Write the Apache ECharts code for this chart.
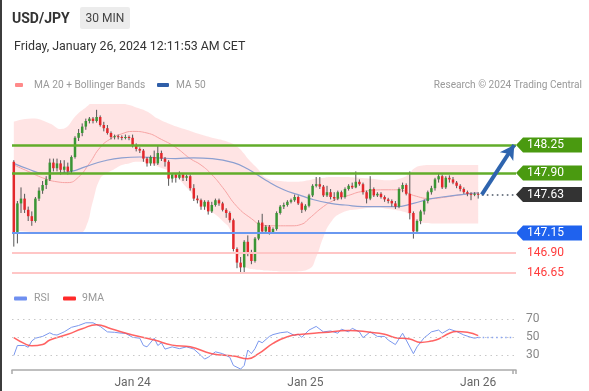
<!DOCTYPE html>
<html><head><meta charset="utf-8">
<script src="https://cdn.jsdelivr.net/npm/echarts@6/dist/echarts.min.js"></script>
<style>html,body{margin:0;padding:0;background:#fff;}#c{width:589px;height:391px;}</style>
</head><body><div id="c"></div>
<script>
// ---------- DATA ----------
const slotCount = 140; // 130 bars + empty space to the right
const startTime = Date.UTC(2024, 0, 23, 7, 30);
const tickIdx = [33, 81, 129];
const tickText = ['Jan 24', 'Jan 25', 'Jan 26'];

const opens = [148.04,147.16,147.52,147.58,147.44,147.36,147.30,147.58,147.68,147.75,
147.82,148.03,147.96,148.02,147.94,147.98,147.92,148.10,148.34,148.40,
148.48,148.55,148.58,148.55,148.60,148.50,148.46,148.40,148.35,148.36,
148.35,148.34,148.35,148.34,148.25,148.20,148.18,148.08,148.02,148.10,
148.02,148.15,148.08,148.04,147.83,147.88,147.84,147.88,147.84,147.86,
147.71,147.58,147.56,147.48,147.54,147.42,147.50,147.56,147.52,147.44,
147.40,147.31,146.95,146.78,146.72,147.04,146.90,146.80,147.08,147.28,
147.17,147.23,147.16,147.20,147.40,147.48,147.50,147.54,147.56,147.60,
147.52,147.44,147.49,147.62,147.74,147.76,147.73,147.62,147.66,147.60,
147.58,147.66,147.60,147.70,147.74,147.72,147.79,147.76,147.66,147.58,
147.70,147.62,147.64,147.60,147.57,147.55,147.52,147.48,147.70,147.75,
147.64,147.40,147.17,147.30,147.42,147.55,147.66,147.71,147.82,147.86,
147.72,147.84,147.82,147.78,147.74,147.70,147.66,147.64,147.63,147.64];
const closes = [147.16,147.52,147.58,147.44,147.36,147.30,147.58,147.68,147.75,147.82,
148.03,147.96,148.02,147.94,147.98,147.92,148.10,148.34,148.40,148.48,
148.55,148.58,148.55,148.60,148.50,148.46,148.40,148.35,148.36,148.35,
148.34,148.35,148.34,148.25,148.20,148.18,148.08,148.02,148.10,148.02,
148.15,148.08,148.04,147.83,147.88,147.84,147.88,147.84,147.86,147.71,
147.58,147.56,147.48,147.54,147.42,147.50,147.56,147.52,147.44,147.40,
147.31,146.95,146.78,146.72,147.04,146.90,146.80,147.08,147.28,147.17,
147.23,147.16,147.20,147.40,147.48,147.50,147.54,147.56,147.60,147.52,
147.44,147.49,147.62,147.74,147.76,147.73,147.62,147.66,147.60,147.58,
147.66,147.60,147.70,147.74,147.72,147.79,147.76,147.66,147.58,147.70,
147.62,147.64,147.60,147.57,147.55,147.52,147.48,147.70,147.75,147.64,
147.40,147.17,147.30,147.42,147.55,147.66,147.71,147.82,147.86,147.72,
147.84,147.82,147.78,147.74,147.70,147.66,147.64,147.63,147.64,147.63];
const highs = [148.06,147.55,147.72,147.64,147.48,147.42,147.60,147.72,147.80,147.86,
148.08,148.08,148.08,148.06,148.06,148.03,148.12,148.36,148.45,148.52,
148.58,148.60,148.60,148.69,148.62,148.54,148.50,148.42,148.38,148.38,
148.37,148.38,148.37,148.38,148.27,148.22,148.20,148.10,148.12,148.18,
148.24,148.18,148.10,148.06,147.90,147.90,147.92,147.90,147.88,147.88,
147.76,147.62,147.58,147.56,147.56,147.54,147.58,147.58,147.54,147.46,
147.42,147.33,146.97,146.85,147.06,147.12,146.94,147.10,147.31,147.39,
147.25,147.25,147.22,147.42,147.50,147.53,147.56,147.58,147.63,147.62,
147.54,147.51,147.64,147.76,147.85,147.85,147.75,147.74,147.70,147.66,
147.68,147.68,147.72,147.76,147.78,147.92,147.82,147.78,147.68,147.86,
147.72,147.66,147.66,147.62,147.59,147.57,147.55,147.72,147.78,147.77,
147.92,147.42,147.32,147.44,147.57,147.68,147.74,147.84,147.89,147.88,
147.86,147.87,147.85,147.80,147.76,147.72,147.68,147.66,147.66,147.66];
const lows = [146.98,147.02,147.40,147.40,147.30,147.24,147.28,147.55,147.64,147.70,
147.80,147.92,147.92,147.88,147.90,147.88,147.90,148.08,148.30,148.36,
148.44,148.52,148.52,148.53,148.48,148.42,148.38,148.32,148.32,148.32,
148.31,148.32,148.31,148.22,148.17,148.15,148.04,147.98,147.99,147.99,
148.00,148.05,147.98,147.74,147.78,147.78,147.82,147.80,147.80,147.68,
147.55,147.52,147.44,147.44,147.38,147.40,147.48,147.49,147.42,147.34,
147.28,146.92,146.71,146.66,146.66,146.86,146.76,146.78,147.06,147.15,
147.14,147.13,147.14,147.18,147.38,147.45,147.48,147.52,147.54,147.50,
147.40,147.42,147.47,147.60,147.72,147.70,147.60,147.60,147.57,147.55,
147.56,147.57,147.58,147.68,147.70,147.71,147.74,147.63,147.52,147.56,
147.60,147.60,147.58,147.54,147.52,147.48,147.45,147.46,147.66,147.62,
147.32,147.08,147.14,147.26,147.38,147.52,147.63,147.68,147.78,147.70,
147.70,147.78,147.76,147.71,147.67,147.64,147.61,147.56,147.61,147.58];

// Bollinger bands (read at bar indices)
const bbIdx =   [0,5,10,13,18,20,22,24,26,28,30,32,34,37,40,44,48,52,56,58,60,62,64,65,68,70,74,78,82,84,86,88,91,96,101,104,108,110,111,113,116,120,129];
const bbUpper = [148.54,148.58,148.52,148.45,148.65,148.72,148.78,148.79,148.79,148.78,148.77,148.75,148.72,148.67,148.58,148.50,148.44,148.38,148.33,148.31,148.28,148.23,148.14,148.08,147.94,147.84,147.80,147.79,147.81,147.83,147.84,147.85,147.85,147.84,147.82,147.81,147.84,147.90,147.95,147.99,148.00,148.00,148.00];
const bbLower = [147.18,147.16,147.15,147.15,147.15,147.22,147.55,147.83,147.90,147.95,148.00,148.02,148.04,148.03,147.98,147.90,147.72,147.52,147.38,147.30,147.20,146.92,146.74,146.71,146.69,146.68,146.67,146.67,146.70,146.85,147.10,147.28,147.40,147.45,147.47,147.45,147.42,147.38,147.32,147.28,147.27,147.27,147.27];
const ma20Idx = [0,4,8,12,15,18,21,24,27,30,33,37,41,45,49,52,55,58,62,66,69,72,77,80,82,86,89,93,97,104,107,111,116,120,126,129];
const ma20 =    [148.00,147.92,147.84,147.79,147.78,147.85,148.02,148.22,148.33,148.39,148.42,148.40,148.32,148.22,148.08,148.00,147.88,147.72,147.48,147.33,147.25,147.24,147.24,147.26,147.33,147.48,147.56,147.62,147.67,147.69,147.69,147.62,147.58,147.60,147.64,147.65];
const ma50Idx = [0,4,8,12,16,20,25,30,35,40,45,50,55,61,65,70,75,79,83,88,92,97,106,111,116,121,126,129];
const ma50 =    [148.02,147.95,147.90,147.90,147.92,147.98,148.05,148.09,148.10,148.09,148.08,148.09,148.08,148.03,147.95,147.81,147.69,147.63,147.57,147.52,147.50,147.48,147.48,147.52,147.58,147.61,147.64,147.65];

// Key levels
const resistLevels = [148.25, 147.90];
const lastPrice = 147.63;
const supportLevel = 147.15;
const lowerLevels = [146.90, 146.65];

// RSI (read at bar indices)
const rsiIdx = [0,1,3,4,5,6,8,10,11,12,14,16,18,20,22,24,26,28,30,31,33,35,36,37,39,40,41,42,44,46,48,50,52,53,54,56,58,60,61,63,64,65,66,67,68,69,71,72,74,76,78,79,80,82,84,86,88,90,91,93,94,96,97,99,101,103,104,106,108,109,111,112,114,115,116,118,119,121,123,125,127,128,129];
const rsi =    [30,41,41,39,46,49,51,55,53,52.5,56,61,63,66,66,62,56,55.5,54.5,54.5,50,49,41,39.5,49,41,44,37,39.5,37.5,39.5,37,30,26,28,34,32,28,19,15,19,36,32,37.5,46,44,51,53,55,56,52,53.5,50,58,62,56,57,54.5,59,56,60,56,49.6,56,51,51,47,42,54.5,47,32,39.5,49.6,52.6,56,58,54.5,59,56.4,52.6,50,49,50];
const rsiMaIdx = [0,3,5,8,10,15,19,23,27,33,39,44,49,55,61,65,68,72,76,80,86,93,99,103,106,110,113,116,118,121,123,126,129];
const rsiMa =    [49.6,43,40.6,42,47,53.4,59.4,63.9,59.4,52.6,47,41.4,39.5,32,29.4,26.4,32,43.3,50.7,53.5,55.2,57.5,55.6,53.4,49.6,48.1,44.4,45.9,48.1,54.5,56.4,55.6,51.9];
const rsiLevels = [70, 50, 30];
const rsiLast = 50;

// ---------- BUILD ----------
const categories = [];
for (let i = 0; i < slotCount; i++) {
  const d = new Date(startTime + i * 1800000);
  categories.push(d.toISOString().slice(0, 16));
}
const pairs = (idx, vals) => idx.map((k, i) => [k, vals[i]]);
const FONT = 'Roboto, "Liberation Sans", Arial, sans-serif';
const C = {
  up: '#3a9535', down: '#e3282c', wick: '#555',
  green: '#62ad2a', greenTag: '#4a9a10', blue: '#6a98f0', blueTag: '#1f62ee',
  pink: '#ffc6c6', red: '#ff3b3b', dark: '#333', band: 'rgba(255,170,170,0.32)',
  ma20: '#f6a3a3', ma50: '#8c9fd0', arrow: '#2e64ae', rsi: '#7b98ee', rsiMa: '#ff4848'
};

const chart = echarts.init(document.getElementById('c'));
const lastBar = opens.length - 1;

const tags = [
  { v: resistLevels[0], color: C.greenTag },
  { v: resistLevels[1], color: C.greenTag },
  { v: lastPrice, color: C.dark },
  { v: supportLevel, color: C.blueTag }
];

chart.setOption({
  animation: false,
  grid: [
    { left: 12, right: 73, top: 105, height: 176 },
    { left: 12, right: 73, top: 301, bottom: 21 }
  ],
  xAxis: [
    { type: 'category', gridIndex: 0, data: categories, show: false, boundaryGap: true },
    { type: 'category', gridIndex: 1, data: categories, boundaryGap: true,
      axisLine: { lineStyle: { color: '#aaa', width: 1.5 } },
      axisTick: { show: true, length: 4, lineStyle: { color: '#aaa', width: 1.5 },
        interval: (i) => i === 0 || i === slotCount - 1 },
      axisLabel: { color: '#666', fontSize: 12, fontFamily: FONT, margin: 7,
        interval: (i) => tickIdx.indexOf(i) >= 0,
        formatter: (v, i) => { const p = tickIdx.indexOf(i); return p >= 0 ? tickText[p] : ''; } },
      splitLine: { show: false } }
  ],
  yAxis: [
    { type: 'value', gridIndex: 0, min: 146.55, max: 148.75, show: false, splitLine: { show: false } },
    { type: 'value', gridIndex: 1, min: 14, max: 90, show: false, splitLine: { show: false } }
  ],
  graphic: [
    { type: 'rect', left: 0, top: 0, shape: { width: 2, height: 391 }, style: { fill: '#3c3c3c' } },
    { type: 'text', x: 12, y: 19, style: { text: 'USD/JPY', font: 'bold 14px ' + FONT, fill: '#333', textVerticalAlign: 'middle' } },
    { type: 'rect', x: 80, y: 7, shape: { width: 50, height: 22, r: 2 }, style: { fill: '#ececec' } },
    { type: 'text', x: 105, y: 18.5, style: { text: '30 MIN', font: '12px ' + FONT, fill: '#444', textAlign: 'center', textVerticalAlign: 'middle' } },
    { type: 'text', x: 14, y: 47, style: { text: 'Friday, January 26, 2024 12:11:53 AM CET', font: '12.4px ' + FONT, fill: '#333', textVerticalAlign: 'middle' } },
    { type: 'rect', x: 15, y: 83, shape: { width: 8, height: 4, r: 1 }, style: { fill: '#ff8a8a' } },
    { type: 'text', x: 34, y: 85, style: { text: 'MA 20 + Bollinger Bands', font: '10.2px ' + FONT, fill: '#999', textVerticalAlign: 'middle' } },
    { type: 'rect', x: 157, y: 83, shape: { width: 12, height: 4, r: 1 }, style: { fill: '#2f5ea8' } },
    { type: 'text', x: 176, y: 85, style: { text: 'MA 50', font: '10.2px ' + FONT, fill: '#999', textVerticalAlign: 'middle' } },
    { type: 'text', x: 582, y: 85, style: { text: 'Research \u00a9 2024 Trading Central', font: '10.1px ' + FONT, fill: '#999', textAlign: 'right', textVerticalAlign: 'middle' } },
    { type: 'rect', x: 14, y: 296.5, shape: { width: 13, height: 4, r: 1 }, style: { fill: '#6f8ff0' } },
    { type: 'text', x: 34, y: 298.5, style: { text: 'RSI', font: '10.5px ' + FONT, fill: '#999', textVerticalAlign: 'middle' } },
    { type: 'rect', x: 63, y: 296.5, shape: { width: 13, height: 4, r: 1 }, style: { fill: '#ff2a2a' } },
    { type: 'text', x: 82, y: 298.5, style: { text: '9MA', font: '10.5px ' + FONT, fill: '#999', textVerticalAlign: 'middle' } }
  ],
  series: [
    { name: 'bbLow', type: 'line', xAxisIndex: 0, yAxisIndex: 0, stack: 'bb', smooth: true, symbol: 'none',
      lineStyle: { opacity: 0 }, data: pairs(bbIdx, bbLower), z: 1, silent: true },
    { name: 'bbBand', type: 'line', xAxisIndex: 0, yAxisIndex: 0, stack: 'bb', smooth: true, symbol: 'none',
      lineStyle: { opacity: 0 }, areaStyle: { color: C.band, opacity: 1 },
      data: bbIdx.map((k, i) => [k, +(bbUpper[i] - bbLower[i]).toFixed(3)]), z: 1, silent: true },
    { name: 'MA20', type: 'line', xAxisIndex: 0, yAxisIndex: 0, smooth: true, symbol: 'none',
      lineStyle: { color: C.ma20, width: 1 }, data: pairs(ma20Idx, ma20), z: 2 },
    { name: 'MA50', type: 'line', xAxisIndex: 0, yAxisIndex: 0, smooth: true, symbol: 'none',
      lineStyle: { color: C.ma50, width: 1.2 }, data: pairs(ma50Idx, ma50), z: 2 },
    { name: 'candles', type: 'custom', xAxisIndex: 0, yAxisIndex: 0, z: 3,
      data: opens.map((o, i) => [i, o, closes[i], lows[i], highs[i]]),
      encode: { x: 0, y: [1, 2, 3, 4] },
      renderItem: function (params, api) {
        const x = api.value(0), o = api.value(1), c = api.value(2), l = api.value(3), h = api.value(4);
        const pO = api.coord([x, o]), pC = api.coord([x, c]), pL = api.coord([x, l]), pH = api.coord([x, h]);
        const w = 2.5, top = Math.min(pO[1], pC[1]), bot = Math.max(pO[1], pC[1]);
        return { type: 'group', children: [
          { type: 'line', shape: { x1: pH[0], y1: pH[1], x2: pL[0], y2: pL[1] }, style: { stroke: C.wick, lineWidth: 1 } },
          { type: 'rect', shape: { x: pO[0] - w / 2, y: top, width: w, height: Math.max(bot - top, 1) }, style: { fill: c >= o ? C.up : C.down } }
        ] };
      } },
    { name: 'levels', type: 'line', xAxisIndex: 0, yAxisIndex: 0, data: [], z: 4,
      markLine: { silent: true, symbol: ['none', 'none'], label: { show: false },
        data: [
          { yAxis: resistLevels[0], lineStyle: { color: C.green, width: 2.5, type: 'solid' } },
          { yAxis: resistLevels[1], lineStyle: { color: C.green, width: 2.5, type: 'solid' } },
          { yAxis: supportLevel, lineStyle: { color: C.blue, width: 2, type: 'solid' } },
          { yAxis: lowerLevels[0], lineStyle: { color: C.pink, width: 2, type: 'solid' } },
          { yAxis: lowerLevels[1], lineStyle: { color: C.pink, width: 2, type: 'solid' } },
          [ { coord: [lastBar + 1, lastPrice], lineStyle: { color: '#4a5566', width: 1.6, type: [1.6, 3.4] } },
            { coord: [slotCount - 1, lastPrice] } ]
        ] } },
    { name: 'arrow', type: 'line', xAxisIndex: 0, yAxisIndex: 0, data: [], z: 5,
      markLine: { silent: true, symbol: ['none', 'arrow'], symbolSize: [12, 14], label: { show: false },
        data: [ [ { coord: [lastBar + 1, lastPrice], lineStyle: { color: C.arrow, width: 4, type: 'solid' } },
                  { coord: [slotCount - 1, resistLevels[0]] } ] ] } },
    { name: 'tags', type: 'custom', xAxisIndex: 0, yAxisIndex: 0, z: 6, clip: false,
      data: tags.map((t, i) => [lastBar, t.v, i]),
      encode: { x: 0, y: 1 },
      renderItem: function (params, api) {
        const i = api.value(2), v = api.value(1);
        const y = api.coord([0, v])[1];
        const x0 = params.coordSys.x + params.coordSys.width;
        const hh = 7.5, w = 66;
        return { type: 'group', children: [
          { type: 'polygon', shape: { points: [[x0, y], [x0 + 7, y - hh], [x0 + w, y - hh], [x0 + w, y + hh], [x0 + 7, y + hh]] },
            style: { fill: tags[i].color } },
          { type: 'text', x: x0 + 11, y: y, style: { text: v.toFixed(2), font: '12px ' + FONT, fill: '#fff', textVerticalAlign: 'middle' } }
        ] };
      } },
    { name: 'lowLabels', type: 'custom', xAxisIndex: 0, yAxisIndex: 0, z: 6, clip: false,
      data: lowerLevels.map((v) => [lastBar, v]),
      encode: { x: 0, y: 1 },
      renderItem: function (params, api) {
        const v = api.value(1);
        const y = api.coord([0, v])[1];
        const x0 = params.coordSys.x + params.coordSys.width;
        return { type: 'text', x: x0 + 11, y: y, style: { text: v.toFixed(2), font: '12px ' + FONT, fill: C.red, textVerticalAlign: 'middle' } };
      } },
    { name: 'RSI', type: 'line', xAxisIndex: 1, yAxisIndex: 1, symbol: 'none', z: 3,
      lineStyle: { color: C.rsi, width: 1 }, data: pairs(rsiIdx, rsi),
      markLine: { silent: true, symbol: ['none', 'none'],
        label: { show: true, position: 'end', distance: 10, color: '#888', fontSize: 12, fontFamily: FONT, formatter: '{c}' },
        data: [
          { yAxis: rsiLevels[0], lineStyle: { color: '#c8c8c8', width: 1, type: [1.5, 4] } },
          { yAxis: rsiLevels[1], lineStyle: { color: '#c8c8c8', width: 1, type: [1.5, 4] } },
          { yAxis: rsiLevels[2], lineStyle: { color: '#c8c8c8', width: 1, type: [1.5, 4] } },
          [ { coord: [lastBar, rsiLast], lineStyle: { color: '#8aa6f2', width: 1.3, type: [1.5, 3] }, label: { show: false } },
            { coord: [slotCount - 1, rsiLast] } ]
        ] } },
    { name: '9MA', type: 'line', xAxisIndex: 1, yAxisIndex: 1, symbol: 'none', smooth: true, z: 4,
      lineStyle: { color: C.rsiMa, width: 1.5, opacity: 0.85 }, data: pairs(rsiMaIdx, rsiMa) }
  ]
});
</script></body></html>
